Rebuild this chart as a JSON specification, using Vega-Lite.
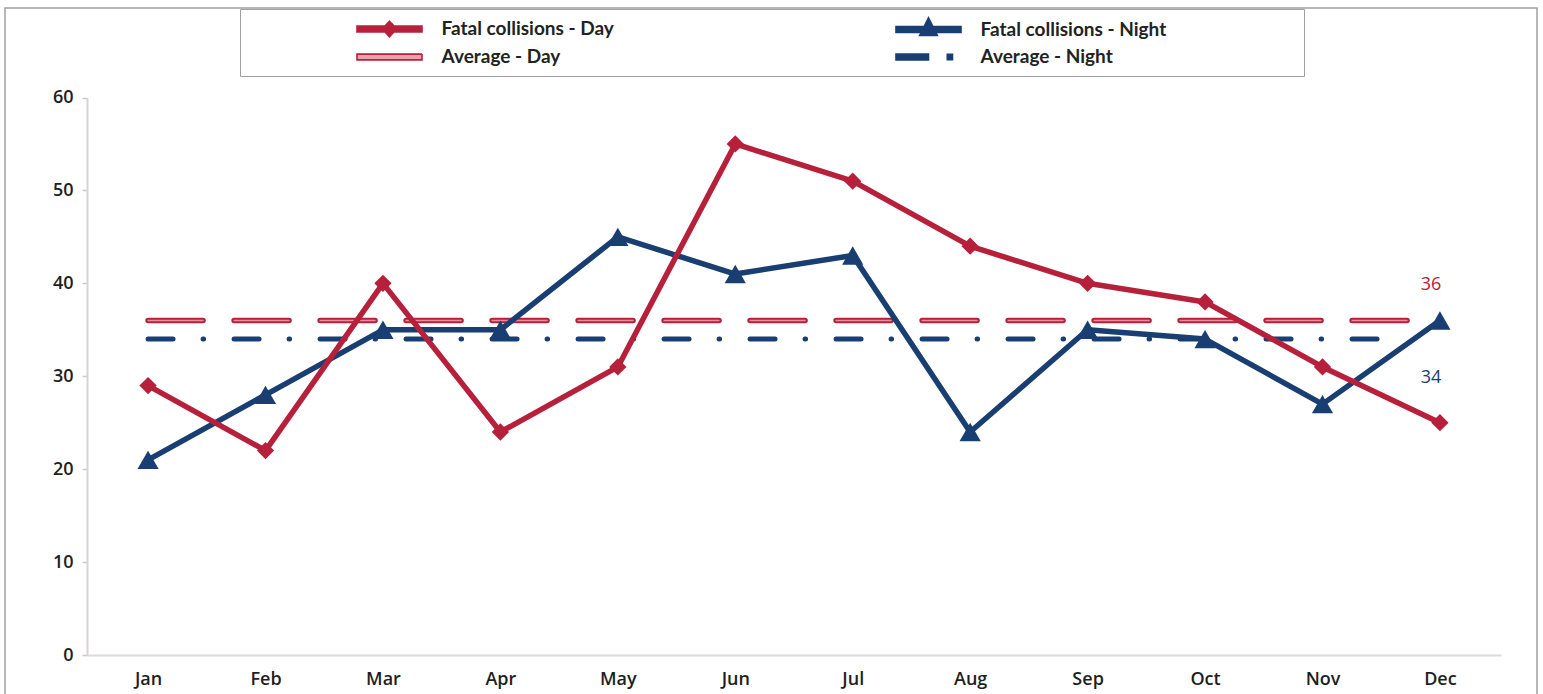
{
  "$schema": "https://vega.github.io/schema/vega-lite/v6.json",
  "width": 1532,
  "height": 700,
  "autosize": {"type": "none"},
  "padding": {"left": 5, "top": 8, "right": 6, "bottom": 0},
  "background": "white",
  "config": {
    "view": {"stroke": "#a0a0a0", "strokeWidth": 1.5},
    "font": "Open Sans"
  },
  "datasets": {
    "monthly": [
      {"series": "Fatal collisions - Day", "month": "Jan", "value": 29},
      {"series": "Fatal collisions - Day", "month": "Feb", "value": 22},
      {"series": "Fatal collisions - Day", "month": "Mar", "value": 40},
      {"series": "Fatal collisions - Day", "month": "Apr", "value": 24},
      {"series": "Fatal collisions - Day", "month": "May", "value": 31},
      {"series": "Fatal collisions - Day", "month": "Jun", "value": 55},
      {"series": "Fatal collisions - Day", "month": "Jul", "value": 51},
      {"series": "Fatal collisions - Day", "month": "Aug", "value": 44},
      {"series": "Fatal collisions - Day", "month": "Sep", "value": 40},
      {"series": "Fatal collisions - Day", "month": "Oct", "value": 38},
      {"series": "Fatal collisions - Day", "month": "Nov", "value": 31},
      {"series": "Fatal collisions - Day", "month": "Dec", "value": 25},
      {"series": "Fatal collisions - Night", "month": "Jan", "value": 21},
      {"series": "Fatal collisions - Night", "month": "Feb", "value": 28},
      {"series": "Fatal collisions - Night", "month": "Mar", "value": 35},
      {"series": "Fatal collisions - Night", "month": "Apr", "value": 35},
      {"series": "Fatal collisions - Night", "month": "May", "value": 45},
      {"series": "Fatal collisions - Night", "month": "Jun", "value": 41},
      {"series": "Fatal collisions - Night", "month": "Jul", "value": 43},
      {"series": "Fatal collisions - Night", "month": "Aug", "value": 24},
      {"series": "Fatal collisions - Night", "month": "Sep", "value": 35},
      {"series": "Fatal collisions - Night", "month": "Oct", "value": 34},
      {"series": "Fatal collisions - Night", "month": "Nov", "value": 27},
      {"series": "Fatal collisions - Night", "month": "Dec", "value": 36}
    ],
    "averages": [
      {"series": "Average - Day", "month": "Jan", "month_end": "Dec", "value": 36},
      {"series": "Average - Night", "month": "Jan", "month_end": "Dec", "value": 34}
    ],
    "labels": [
      {"series": "Average - Day", "month": "Dec", "value": 36, "label": "36"},
      {"series": "Average - Night", "month": "Dec", "value": 34, "label": "34"}
    ]
  },
  "encoding": {
    "x": {
      "field": "month",
      "type": "ordinal",
      "scale": {
        "type": "point",
        "domain": ["Jan", "Feb", "Mar", "Apr", "May", "Jun", "Jul", "Aug", "Sep", "Oct", "Nov", "Dec"],
        "range": [82, 1496],
        "padding": 0.52
      },
      "axis": {
        "title": null,
        "offset": -53,
        "grid": false,
        "domainColor": "#dedada",
        "domainWidth": 2,
        "ticks": false,
        "labelAngle": 0,
        "labelFont": "Open Sans",
        "labelFontSize": 18,
        "labelFontWeight": 600,
        "labelColor": "#1e1e1e",
        "labelPadding": 15
      }
    },
    "y": {
      "field": "value",
      "type": "quantitative",
      "scale": {"domain": [0, 60], "range": [647, 89.5], "nice": false, "zero": true},
      "axis": {
        "title": null,
        "offset": -82,
        "grid": false,
        "values": [0, 10, 20, 30, 40, 50, 60],
        "domainColor": "#d8d3d3",
        "domainWidth": 2,
        "tickColor": "#cfc9c9",
        "tickSize": 5,
        "tickWidth": 1.5,
        "labelFont": "Open Sans",
        "labelFontSize": 18,
        "labelFontWeight": 600,
        "labelColor": "#1e1e1e",
        "labelPadding": 9
      }
    }
  },
  "layer": [
    {
      "data": {"name": "averages"},
      "transform": [{"filter": "datum.series === 'Average - Day'"}],
      "mark": {"type": "rule", "strokeWidth": 5.5, "strokeDash": [55, 31], "strokeCap": "round", "x2Offset": -12},
      "encoding": {
        "x2": {"field": "month_end"},
        "color": {
          "field": "series",
          "type": "nominal",
          "scale": {
            "domain": ["Fatal collisions - Day", "Average - Day", "Fatal collisions - Night", "Average - Night"],
            "range": ["#b7203b", "#b7203b", "#183e72", "#183e72"]
          },
          "legend": {
            "title": "\u00a0",
            "titleOrient": "left",
            "titlePadding": 107,
            "orient": "none",
            "legendX": 235,
            "legendY": 1,
            "columns": 2,
            "columnPadding": 278,
            "rowPadding": 6,
            "padding": 9,
            "fillColor": "white",
            "strokeColor": "#a0a0a0",
            "symbolType": "stroke",
            "symbolSize": 400,
            "symbolStrokeWidth": 1,
            "symbolOffset": 22.5,
            "labelFont": "Lato",
            "labelFontSize": 19,
            "labelFontWeight": "bold",
            "labelColor": "#222222",
            "labelOffset": 41,
            "labelLimit": 0,
            "labelExpr": "indexof(datum.label, 'Night') >= 0 ? datum.label + '\u2003\u2003\u2003\u2003\u2003\u2003\u2003\u2003\u2003\u200b' : datum.label",
            "encoding": {
              "symbols": {
                "shape": {
                  "condition": [
                    {"test": "datum.value === 'Fatal collisions - Day'", "value": "M-3.25,-0.29L-0.45,-0.29L0,-0.78L0.45,-0.29L3.25,-0.29L3.25,0.29L0.45,0.29L0,0.78L-0.45,0.29L-3.25,0.29Z"},
                    {"test": "datum.value === 'Fatal collisions - Night'", "value": "M-3.25,-0.29L-0.44,-0.29L0,-1.17L0.44,-0.29L3.25,-0.29L3.25,0.29L0.73,0.29L0.88,0.585L-0.88,0.585L-0.73,0.29L-3.25,0.29Z"},
                    {"test": "datum.value === 'Average - Day'", "value": "M-3.25,-0.29L3.25,-0.29L3.25,0.29L-3.25,0.29Z"}
                  ],
                  "value": "M-3.25,-0.29L0,-0.29L0,0.29L-3.25,0.29Z M1.88,-0.26L2.4,-0.26L2.4,0.26L1.88,0.26Z"
                },
                "fill": {
                  "condition": [
                    {"test": "datum.value === 'Average - Day'", "value": "#e9a2ac"},
                    {"test": "indexof(datum.value, 'Day') >= 0", "value": "#b7203b"}
                  ],
                  "value": "#183e72"
                },
                "stroke": {
                  "condition": {"test": "indexof(datum.value, 'Day') >= 0", "value": "#b7203b"},
                  "value": "#183e72"
                },
                "strokeWidth": {"value": 1.6},
                "strokeDash": {"value": [1, 0]},
                "opacity": {"value": 1}
              }
            }
          }
        }
      }
    },
    {
      "data": {"name": "averages"},
      "transform": [{"filter": "datum.series === 'Average - Day'"}],
      "mark": {"type": "rule", "strokeWidth": 1.3, "strokeDash": [55, 31], "strokeCap": "round", "x2Offset": -12, "color": "#e58f9c"},
      "encoding": {
        "x2": {"field": "month_end"}
      }
    },
    {
      "data": {"name": "averages"},
      "transform": [{"filter": "datum.series === 'Average - Night'"}],
      "mark": {"type": "rule", "strokeWidth": 5, "strokeDash": [25, 30, 0.5, 30.5], "strokeCap": "round", "x2Offset": -45},
      "encoding": {
        "x2": {"field": "month_end"},
        "color": {"field": "series", "type": "nominal"}
      }
    },
    {
      "data": {"name": "monthly"},
      "transform": [{"filter": "datum.series === 'Fatal collisions - Night'"}],
      "mark": {"type": "line", "strokeWidth": 5.5, "strokeJoin": "round"},
      "encoding": {
        "color": {"field": "series", "type": "nominal"}
      }
    },
    {
      "data": {"name": "monthly"},
      "transform": [{"filter": "datum.series === 'Fatal collisions - Night'"}],
      "mark": {"type": "point", "shape": "triangle-up", "filled": true, "size": 450, "color": "#183e72", "opacity": 1}
    },
    {
      "data": {"name": "monthly"},
      "transform": [{"filter": "datum.series === 'Fatal collisions - Day'"}],
      "mark": {"type": "line", "strokeWidth": 5.5, "strokeJoin": "round"},
      "encoding": {
        "color": {"field": "series", "type": "nominal"}
      }
    },
    {
      "data": {"name": "monthly"},
      "transform": [{"filter": "datum.series === 'Fatal collisions - Day'"}],
      "mark": {"type": "point", "shape": "diamond", "filled": true, "size": 300, "color": "#b7203b", "opacity": 1}
    },
    {
      "data": {"name": "labels"},
      "transform": [{"filter": "datum.series === 'Average - Day'"}],
      "mark": {"type": "text", "dx": -9, "dy": -36, "fontSize": 18, "font": "Open Sans", "fontWeight": 500, "color": "#b7203b"},
      "encoding": {"text": {"field": "label"}}
    },
    {
      "data": {"name": "labels"},
      "transform": [{"filter": "datum.series === 'Average - Night'"}],
      "mark": {"type": "text", "dx": -9, "dy": 39, "fontSize": 18, "font": "Open Sans", "fontWeight": 500, "color": "#183e72"},
      "encoding": {"text": {"field": "label"}}
    }
  ]
}
